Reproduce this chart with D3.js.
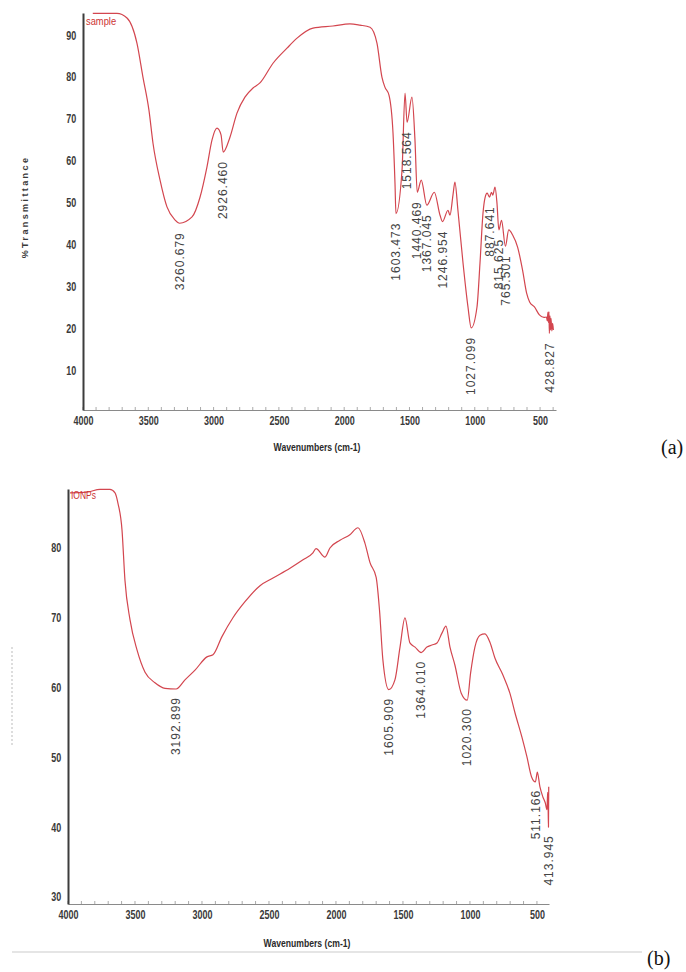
<!DOCTYPE html>
<html>
<head>
<meta charset="utf-8">
<script src="https://cdn.jsdelivr.net/npm/d3@7/dist/d3.min.js"></script>
<style>
  html, body { margin: 0; padding: 0; background: #fff; }
  svg { display: block; }
</style>
</head>
<body>
<svg id="fig" width="686" height="972"></svg>
<script>
// FTIR spectrum (a): plant extract "sample"
const wavenumbersA = [3925, 3740, 3663, 3587, 3541, 3495, 3464, 3410, 3357, 3296, 3260.679, 3165, 3104, 3051, 3012, 2974, 2943, 2926.460, 2874, 2821, 2760, 2698, 2645, 2545, 2438, 2361, 2239, 2086, 1956, 1879, 1802, 1749, 1711, 1688, 1657, 1626, 1611, 1603.473, 1557, 1534, 1518.564, 1481, 1458, 1440.469, 1410, 1367.045, 1310, 1266, 1246.954, 1205, 1190, 1167, 1152, 1129, 1090, 1052, 1027.099, 983, 960, 937, 922, 905, 887.641, 872, 862, 845, 830, 815.625, 795, 765.501, 740, 710, 672, 634, 603, 580, 543, 505, 470, 451, 445, 440, 436, 432, 428.827, 424, 420, 416, 410, 404, 398];
const transmittanceA = [95.2, 95.2, 94.1, 88.1, 80.0, 72.1, 64.2, 55.4, 49.0, 45.9, 45.1, 46.6, 51.3, 58.5, 65.0, 67.8, 66.2, 62.1, 65.7, 71.4, 75.2, 77.4, 78.6, 83.3, 86.9, 89.3, 91.7, 92.2, 92.7, 92.4, 91.9, 88.1, 80.0, 77.6, 75.7, 66.6, 54.7, 47.4, 57.8, 76.2, 69.2, 75.2, 65.0, 52.5, 55.4, 49.4, 52.5, 47.0, 45.5, 48.2, 47.0, 51.8, 54.9, 48.2, 35.6, 25.1, 20.1, 25.1, 35.6, 47.5, 51.1, 52.3, 51.3, 52.5, 51.8, 53.7, 49.9, 43.5, 45.8, 39.6, 43.5, 42.3, 39.4, 33.9, 28.4, 26.3, 25.1, 23.2, 22.6, 22.7, 21.8, 23.8, 21.4, 24.0, 18.8, 23.0, 19.6, 22.4, 19.4, 21.2, 19.6];
const peakLabelsA = ["3260.679", "2926.460", "1603.473", "1518.564", "1440.469", "1367.045", "1246.954", "1027.099", "887.641", "815.625", "765.501", "428.827"];

// FTIR spectrum (b): iron oxide nanoparticles "IONPs"
const wavenumbersB = [3985, 3858, 3761, 3687, 3649, 3627, 3597, 3575, 3537, 3485, 3425, 3351, 3276, 3192.899, 3127, 3052, 2963, 2918, 2851, 2769, 2679, 2567, 2470, 2343, 2246, 2172, 2149, 2082, 2045, 1970, 1896, 1836, 1784, 1746, 1700, 1675, 1650, 1605.909, 1560, 1522, 1485, 1448, 1410, 1364.010, 1321, 1284, 1246, 1209, 1179, 1149, 1112, 1065, 1020.300, 995, 963, 925, 888, 851, 813, 754, 702, 664, 612, 575, 540, 511.166, 497, 478, 455, 438, 425, 420, 416, 413.945, 412];
const transmittanceB = [87.9, 88.0, 88.4, 88.4, 87.9, 86.4, 82.6, 75.4, 69.7, 65.4, 62.2, 60.7, 59.9, 59.8, 61.1, 62.5, 64.4, 64.7, 67.3, 70.0, 72.3, 74.6, 75.7, 77.1, 78.3, 79.3, 79.9, 78.7, 80.0, 81.1, 81.9, 82.9, 80.7, 77.9, 75.8, 71.1, 64.0, 59.7, 61.1, 65.8, 70.0, 66.4, 65.8, 65.0, 65.8, 66.1, 66.4, 67.8, 68.8, 65.8, 63.2, 59.2, 58.2, 62.1, 65.8, 67.5, 67.7, 66.5, 64.2, 61.8, 59.2, 56.4, 52.9, 50.1, 47.2, 46.5, 47.9, 45.8, 44.3, 43.5, 42.5, 45.0, 42.2, 40.0, 45.8];
const peakLabelsB = ["3192.899", "1605.909", "1364.010", "1020.300", "511.166", "413.945"];

const xTickValues = [4000, 3500, 3000, 2500, 2000, 1500, 1000, 500];
const yTickValuesA = [10, 20, 30, 40, 50, 60, 70, 80, 90];
const yTickValuesB = [30, 40, 50, 60, 70, 80];

const svg = d3.select("#fig");
const LINE_RED = "#d3464f";
const AXIS_FONT = "'Liberation Sans', Arial, sans-serif";
const NARROW = 0.75; // horizontal squeeze giving the condensed axis lettering

function drawPanel(opt) {
  const g = svg.append("g");
  const x = d3.scaleLinear().domain(opt.xDomain).range(opt.xRange);
  const y = d3.scaleLinear().domain(opt.yDomain).range(opt.yRange);
  const x0 = opt.xRange[0];
  const yb = opt.yRange[0];

  // minor ticks along the wavenumber axis
  const minor = d3.range(4000, opt.xDomain[1], -100);
  g.append("g").selectAll("line").data(minor).join("line")
    .attr("x1", d => x(d)).attr("x2", d => x(d))
    .attr("y1", yb).attr("y2", yb - 3)
    .attr("stroke", "#aaa").attr("stroke-width", 1);

  // x axis
  const xAxis = d3.axisBottom(x).tickValues(xTickValues).tickSize(0).tickPadding(6).tickFormat(d3.format("d"));
  const gx = g.append("g").attr("transform", `translate(0,${yb})`).call(xAxis);
  gx.select(".domain").attr("stroke", "#8a8a8a").attr("stroke-width", 1.2);
  gx.selectAll("text").attr("font-family", AXIS_FONT).attr("font-weight", "bold")
    .attr("font-size", 12).attr("fill", "#3a3a3a")
    .attr("transform", `scale(${NARROW},1)`);

  // y axis
  const yAxis = d3.axisLeft(y).tickValues(opt.yTicks).tickSize(0).tickPadding(9).tickFormat(d3.format("d"));
  const gy = g.append("g").attr("transform", `translate(${x0},0)`).call(yAxis);
  gy.select(".domain").attr("stroke", "#3c3c3c").attr("stroke-width", 2);
  gy.selectAll("text").attr("font-family", AXIS_FONT).attr("font-weight", "bold")
    .attr("font-size", 12).attr("fill", "#3a3a3a");
  gy.selectAll(".tick").each(function () {
    const t = d3.select(this);
    const tr = t.attr("transform");
    t.select("text").attr("transform", `scale(${NARROW},1)`);
    t.attr("transform", tr);
  });

  // axis title
  g.append("text").attr("transform", `translate(${opt.xTitleX},${opt.xTitleY}) scale(${NARROW},1)`)
    .attr("text-anchor", "middle").attr("font-family", AXIS_FONT).attr("font-weight", "bold")
    .attr("font-size", 11.5).attr("fill", "#2a2a2a").text("Wavenumbers (cm-1)");

  // spectrum trace
  const pts = opt.wn.map((w, i) => [w, opt.t[i]]);
  g.append("path").datum(pts)
    .attr("fill", "none").attr("stroke", LINE_RED).attr("stroke-width", 1.2)
    .attr("stroke-linejoin", "round")
    .attr("d", d3.line().curve(d3.curveMonotoneX).x(d => x(d[0])).y(d => y(d[1])));

  // sample name inside the plot
  g.append("text").attr("transform", `translate(${x0 + 3},${opt.nameY}) scale(0.85,1)`)
    .attr("font-family", AXIS_FONT).attr("font-size", opt.nameSize).attr("fill", "#cc3333")
    .text(opt.name);

  // peak labels below each band minimum
  g.append("g").selectAll("text").data(opt.peaks).join("text")
    .attr("transform", d => {
      const w = +d;
      const i = opt.wn.indexOf(w);
      return `translate(${x(w)},${y(opt.t[i]) + opt.labelGap}) rotate(-90)`;
    })
    .attr("dy", "0.35em").attr("text-anchor", "end")
    .attr("font-family", AXIS_FONT).attr("font-size", 12)
    .attr("letter-spacing", 1).attr("fill", "#444")
    .text(d => d);

  return g;
}

drawPanel({
  xDomain: [4000, 378], xRange: [83, 556],
  yDomain: [0.5, 95.3], yRange: [410, 13], yTicks: yTickValuesA,
  wn: wavenumbersA, t: transmittanceA, peaks: peakLabelsA,
  xTitleX: 317, xTitleY: 451, name: "sample", nameY: 25, nameSize: 11, labelGap: 9
});

drawPanel({
  xDomain: [4000, 410], xRange: [68, 549],
  yDomain: [29, 88.45], yRange: [904, 489], yTicks: yTickValuesB,
  wn: wavenumbersB, t: transmittanceB, peaks: peakLabelsB,
  xTitleX: 307, xTitleY: 947, name: "IONPs", nameY: 499, nameSize: 10, labelGap: 8
});

// y axis title of panel (a)
svg.append("text").attr("transform", "translate(25,207) rotate(-90)")
  .attr("dy", "0.35em").attr("text-anchor", "middle")
  .attr("font-family", AXIS_FONT).attr("font-weight", "bold")
  .attr("font-size", 9).attr("letter-spacing", 2.4).attr("fill", "#3a3a3a")
  .text("%Transmittance");

// faint title stub of panel (b)
svg.append("line").attr("x1", 12).attr("x2", 12).attr("y1", 647).attr("y2", 747)
  .attr("stroke", "#bbb").attr("stroke-width", 1).attr("stroke-dasharray", "2,2");

// separator under panel (b)
svg.append("line").attr("x1", 12).attr("x2", 642).attr("y1", 952).attr("y2", 952)
  .attr("stroke", "#dcdcdc").attr("stroke-width", 1.5);

// panel letters
svg.append("text").attr("x", 661).attr("y", 454)
  .attr("font-family", "'Liberation Serif', 'Times New Roman', serif").attr("font-size", 20)
  .attr("fill", "#111").text("(a)");
svg.append("text").attr("x", 647).attr("y", 965)
  .attr("font-family", "'Liberation Serif', 'Times New Roman', serif").attr("font-size", 20)
  .attr("fill", "#111").text("(b)");
</script>
</body>
</html>
